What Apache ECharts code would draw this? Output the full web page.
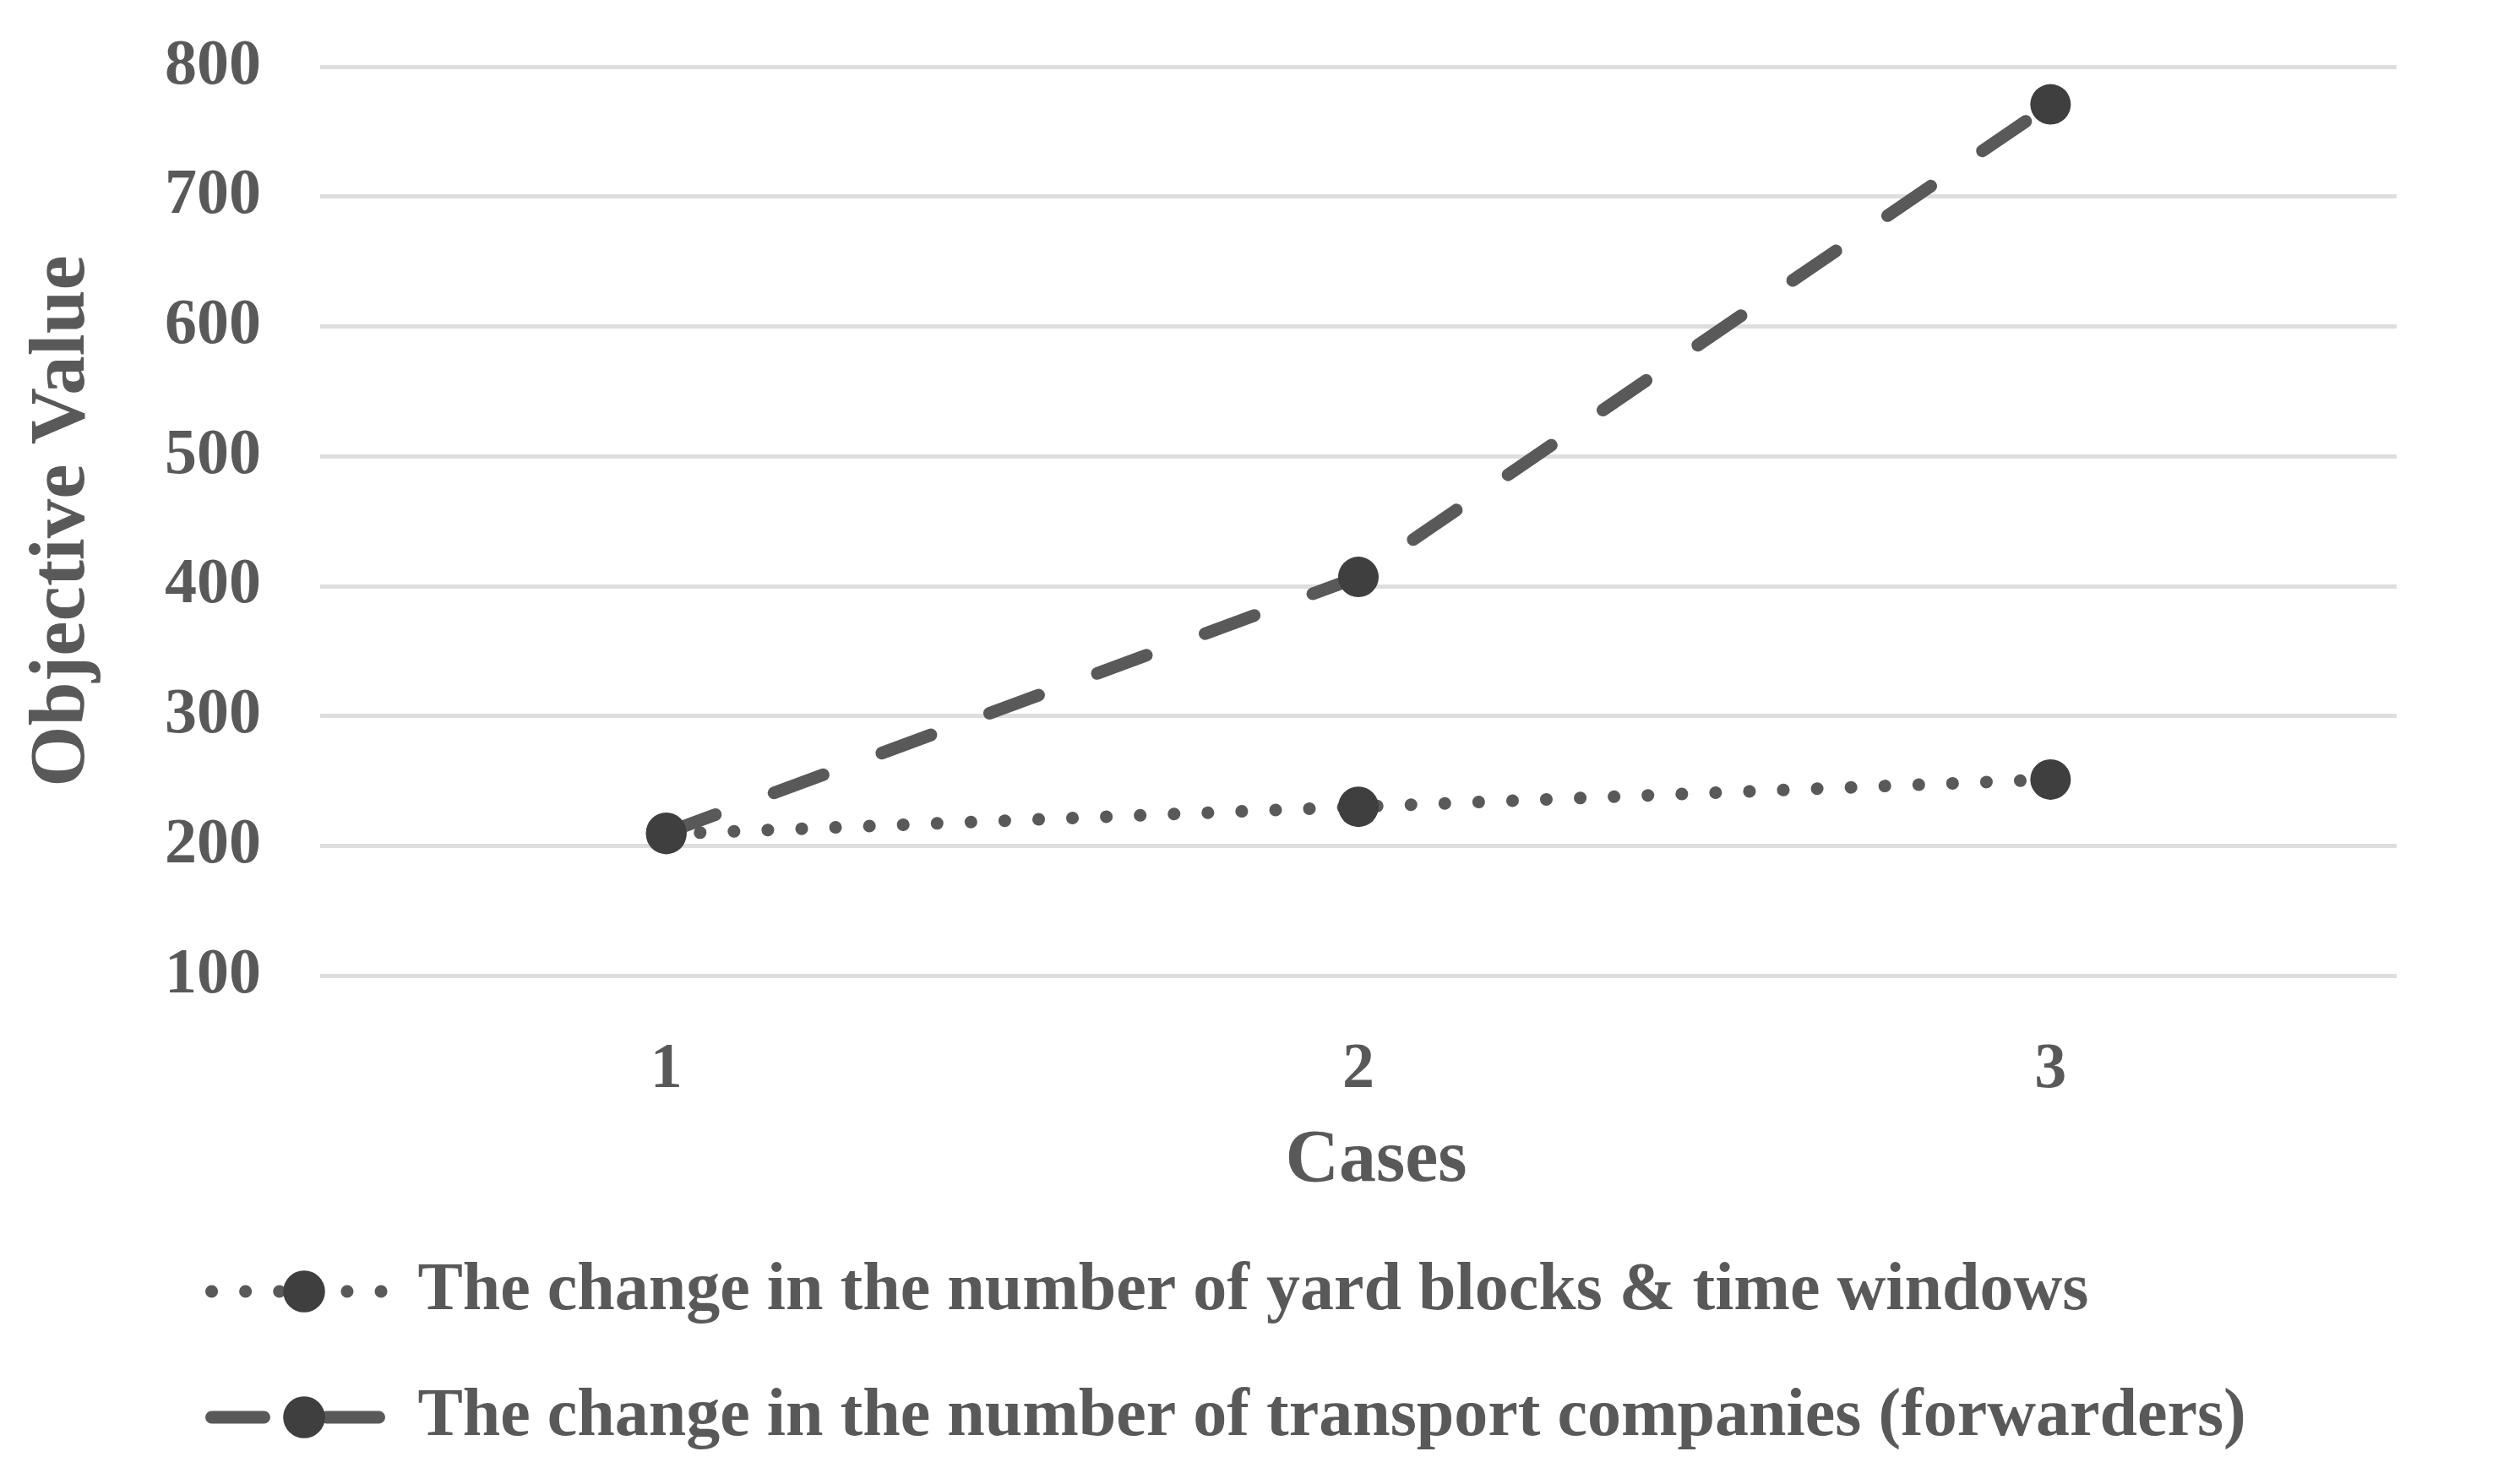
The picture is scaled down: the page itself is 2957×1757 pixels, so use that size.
<!DOCTYPE html>
<html>
<head>
<meta charset="utf-8">
<script src="https://cdn.jsdelivr.net/npm/echarts@6/dist/echarts.min.js"></script>
<style>
html,body{margin:0;padding:0;background:#fff;}
#chart{width:2957px;height:1757px;}
</style>
</head>
<body>
<div id="chart"></div>
<script>
const categories = ['1', '2', '3'];
const seriesNames = [
  'The change in the number of yard blocks & time windows',
  'The change in the number of transport companies (forwarders)'
];
const yardBlocks = [209, 230, 251];
const forwarders = [210, 407, 771];
const yTicks = { min: 100, max: 800, interval: 100 };

const textColor = '#595959';
const lineColor = '#595959';
const markerColor = '#3f3f3f';

const chart = echarts.init(document.getElementById('chart'), null, { renderer: 'canvas' });
chart.setOption({
  backgroundColor: '#ffffff',
  animation: false,
  grid: { left: 379, right: 120, top: 79, bottom: 602, containLabel: false },
  xAxis: {
    type: 'category',
    data: categories,
    boundaryGap: true,
    axisLine: { show: false },
    axisTick: { show: false },
    axisLabel: { color: textColor, fontFamily: 'Liberation Serif', fontWeight: 'bold', fontSize: 76, margin: 74 },
    name: 'Cases',
    nameLocation: 'middle',
    nameGap: 176,
    nameTextStyle: { color: textColor, fontFamily: 'Liberation Serif', fontWeight: 'bold', fontSize: 88, padding: [0, 0, 0, 42] }
  },
  yAxis: {
    type: 'value',
    min: yTicks.min, max: yTicks.max, interval: yTicks.interval,
    axisLine: { show: false },
    axisTick: { show: false },
    splitLine: { lineStyle: { color: '#dedede', width: 5 } },
    axisLabel: { color: textColor, fontFamily: 'Liberation Serif', fontWeight: 'bold', fontSize: 76, margin: 70 },
    name: 'Objective Value',
    nameLocation: 'middle',
    nameGap: 258,
    nameTextStyle: { color: textColor, fontFamily: 'Liberation Serif', fontWeight: 'bold', fontSize: 93 }
  },
  legend: {
    orient: 'vertical',
    left: 238,
    top: 1478,
    itemWidth: 219,
    itemHeight: 62,
    itemGap: 57,
    lineStyle: { width: 15 },
    textStyle: { color: textColor, fontFamily: 'Liberation Serif', fontWeight: 'bold', fontSize: 80, lineHeight: 92, padding: [0, 0, 0, 20] },
    data: seriesNames
  },
  series: [
    {
      name: seriesNames[0],
      type: 'line',
      data: yardBlocks,
      symbol: 'circle',
      symbolSize: 48,
      itemStyle: { color: markerColor },
      lineStyle: { color: lineColor, width: 15, type: [0.1, 40], cap: 'round' },
      z: 3
    },
    {
      name: seriesNames[1],
      type: 'line',
      data: forwarders,
      symbol: 'circle',
      symbolSize: 48,
      itemStyle: { color: markerColor },
      lineStyle: { color: lineColor, width: 15, type: [62, 74], cap: 'round' },
      z: 2
    }
  ]
});
</script>
</body>
</html>
